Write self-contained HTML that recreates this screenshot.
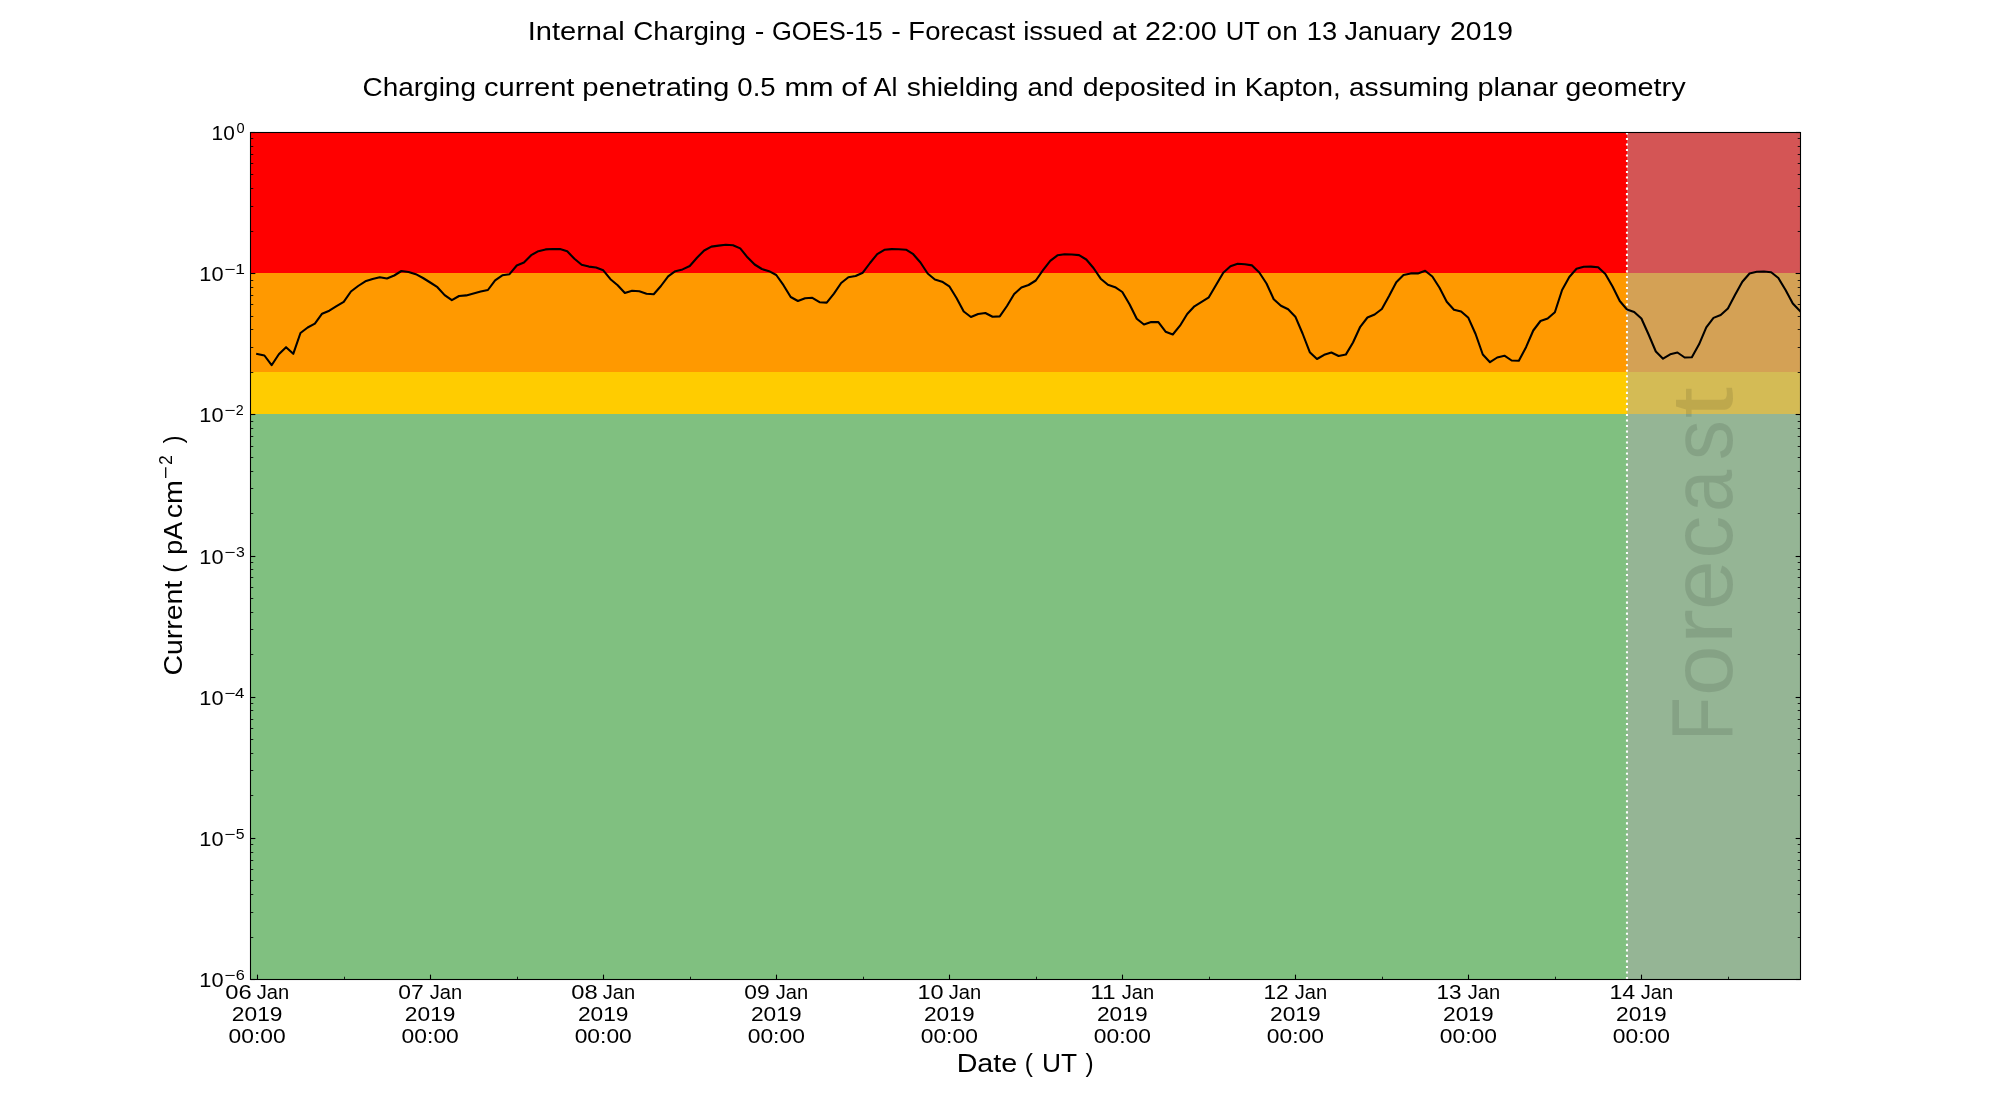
<!DOCTYPE html>
<html lang="en"><head><meta charset="utf-8"><title>Internal Charging - GOES-15 Forecast</title>
<style>
html,body{margin:0;padding:0;background:#fff;}
body{width:2000px;height:1100px;overflow:hidden;}
svg{display:block;will-change:transform;}
text{font-family:"Liberation Sans",sans-serif;fill:#000;white-space:pre;}
.t18{font-size:26.3px;}
.t14{font-size:20.5px;}
.sup14{font-size:14.3px;}
.sup18{font-size:18.4px;}
.fc{font-size:87.5px;fill:#000;fill-opacity:0.1;}
.maj{stroke:#000;stroke-width:1.1;}
.min{stroke:#000;stroke-width:0.85;}
</style></head><body>
<svg width="2000" height="1100" viewBox="0 0 2000 1100">
<rect x="0" y="0" width="2000" height="1100" fill="#ffffff"/>
<g shape-rendering="crispEdges">
<rect x="250.00" y="132.00" width="1550.00" height="141.00" fill="#ff0000" />
<rect x="250.00" y="273.00" width="1550.00" height="99.00" fill="#ff9900" />
<rect x="250.00" y="372.00" width="1550.00" height="42.00" fill="#ffcc00" />
<rect x="250.00" y="414.00" width="1550.00" height="565.00" fill="#80c080" />
<rect x="1627.00" y="132.00" width="173.00" height="847.00" fill="#a9a9a9" fill-opacity="0.5"/>
</g>
<g transform="translate(1732.0,735.1) rotate(-90)">
<text class="fc" ><tspan x="-5.62" y="0.00" textLength="43.74" lengthAdjust="spacingAndGlyphs">F</tspan><tspan x="39.03" y="0.00" textLength="50.65" lengthAdjust="spacingAndGlyphs">o</tspan><tspan x="90.23" y="0.00" textLength="35.96" lengthAdjust="spacingAndGlyphs">r</tspan><tspan x="125.15" y="0.00" textLength="49.78" lengthAdjust="spacingAndGlyphs">e</tspan><tspan x="176.25" y="0.00" textLength="42.91" lengthAdjust="spacingAndGlyphs">c</tspan><tspan x="223.03" y="0.00" textLength="42.22" lengthAdjust="spacingAndGlyphs">a</tspan><tspan x="274.82" y="0.00" textLength="40.13" lengthAdjust="spacingAndGlyphs">s</tspan><tspan x="316.53" y="0.00" textLength="31.55" lengthAdjust="spacingAndGlyphs">t</tspan></text>
</g>
<line x1="1626.98" y1="979" x2="1626.98" y2="132" stroke="#ffffff" stroke-width="2.08" stroke-dasharray="2.08 3.44"/>
<clipPath id="ax"><rect x="250" y="132" width="1550" height="847"/></clipPath>
<polyline clip-path="url(#ax)" points="257.21,354.00 264.42,355.50 271.63,365.20 278.84,354.20 286.05,347.20 293.26,353.80 300.47,333.00 307.67,327.50 314.88,323.70 322.09,313.70 329.30,310.70 336.51,306.20 343.72,301.80 350.93,291.50 358.14,286.00 365.35,281.30 372.56,279.00 379.77,277.20 386.98,278.50 394.19,275.50 401.40,271.00 408.60,272.00 415.81,274.20 423.02,278.00 430.23,282.50 437.44,287.20 444.65,295.10 451.86,300.20 459.07,296.00 466.28,295.40 473.49,293.50 480.70,291.60 487.91,290.00 495.12,280.30 502.33,275.30 509.53,274.20 516.74,265.50 523.95,262.50 531.16,255.20 538.37,251.20 545.58,249.40 552.79,249.00 560.00,249.10 567.21,251.30 574.42,258.80 581.63,264.80 588.84,266.60 596.05,267.50 603.26,270.30 610.47,279.20 617.67,285.20 624.88,293.00 632.09,290.80 639.30,291.30 646.51,293.70 653.72,294.20 660.93,286.00 668.14,276.30 675.35,271.20 682.56,269.40 689.77,266.00 696.98,257.70 704.19,250.50 711.40,246.60 718.60,245.60 725.81,244.80 733.02,245.20 740.23,248.40 747.44,257.30 754.65,264.50 761.86,269.00 769.07,271.20 776.28,275.00 783.49,285.20 790.70,297.00 797.91,301.00 805.12,298.20 812.33,297.80 819.53,302.20 826.74,302.60 833.95,293.70 841.16,283.00 848.37,277.20 855.58,276.00 862.79,272.70 870.00,263.00 877.21,254.20 884.42,249.80 891.63,249.10 898.84,249.30 906.05,249.70 913.26,254.20 920.47,262.50 927.67,273.50 934.88,279.50 942.09,281.70 949.30,286.30 956.51,298.00 963.72,311.50 970.93,317.00 978.14,314.00 985.35,313.00 992.56,316.70 999.77,316.40 1006.98,306.00 1014.19,294.00 1021.40,287.50 1028.60,285.00 1035.81,280.50 1043.02,270.20 1050.23,260.80 1057.44,255.30 1064.65,254.20 1071.86,254.50 1079.07,255.10 1086.28,259.50 1093.49,268.00 1100.70,278.70 1107.91,284.80 1115.12,287.20 1122.33,292.00 1129.53,304.20 1136.74,318.70 1143.95,324.50 1151.16,322.00 1158.37,322.10 1165.58,331.70 1172.79,334.50 1180.00,325.70 1187.21,314.00 1194.42,306.30 1201.63,301.90 1208.84,297.30 1216.05,285.00 1223.26,272.70 1230.47,266.20 1237.67,263.80 1244.88,264.20 1252.09,265.40 1259.30,272.50 1266.51,283.50 1273.72,299.20 1280.93,305.70 1288.14,309.30 1295.35,316.70 1302.56,333.50 1309.77,352.20 1316.98,359.00 1324.19,354.80 1331.40,352.50 1338.60,356.00 1345.81,354.60 1353.02,342.50 1360.23,326.80 1367.44,317.50 1374.65,314.50 1381.86,309.00 1389.07,296.00 1396.28,282.20 1403.49,275.00 1410.70,273.40 1417.91,273.40 1425.12,270.80 1432.33,276.50 1439.53,287.80 1446.74,301.80 1453.95,309.70 1461.16,311.50 1468.37,317.80 1475.58,334.00 1482.79,354.50 1490.00,362.20 1497.21,357.50 1504.42,355.70 1511.63,360.50 1518.84,360.70 1526.05,347.20 1533.26,330.50 1540.47,321.00 1547.67,318.50 1554.88,312.20 1562.09,290.00 1569.30,277.00 1576.51,268.80 1583.72,266.80 1590.93,266.60 1598.14,267.30 1605.35,274.00 1612.56,286.50 1619.77,301.00 1626.98,309.50 1634.19,312.00 1641.40,318.50 1648.60,334.50 1655.81,351.50 1663.02,358.70 1670.23,354.30 1677.44,352.50 1684.65,357.50 1691.86,357.30 1699.07,344.30 1706.28,327.40 1713.49,317.90 1720.70,315.00 1727.91,308.50 1735.12,294.80 1742.33,281.70 1749.53,273.50 1756.74,271.80 1763.95,271.50 1771.16,272.20 1778.37,278.00 1785.58,290.00 1792.79,303.50 1800.00,311.00" fill="none" stroke="#000000" stroke-width="2.08" stroke-linejoin="round" stroke-linecap="square"/>
<g>
<line class="maj" x1="257.5" y1="979.5" x2="257.5" y2="974.64"/>
<line class="maj" x1="430.5" y1="979.5" x2="430.5" y2="974.64"/>
<line class="maj" x1="603.5" y1="979.5" x2="603.5" y2="974.64"/>
<line class="maj" x1="776.5" y1="979.5" x2="776.5" y2="974.64"/>
<line class="maj" x1="949.5" y1="979.5" x2="949.5" y2="974.64"/>
<line class="maj" x1="1122.5" y1="979.5" x2="1122.5" y2="974.64"/>
<line class="maj" x1="1295.5" y1="979.5" x2="1295.5" y2="974.64"/>
<line class="maj" x1="1468.5" y1="979.5" x2="1468.5" y2="974.64"/>
<line class="maj" x1="1641.5" y1="979.5" x2="1641.5" y2="974.64"/>
<line class="min" x1="257.5" y1="979.5" x2="257.5" y2="976.72"/>
<line class="min" x1="344.5" y1="979.5" x2="344.5" y2="976.72"/>
<line class="min" x1="430.5" y1="979.5" x2="430.5" y2="976.72"/>
<line class="min" x1="517.5" y1="979.5" x2="517.5" y2="976.72"/>
<line class="min" x1="603.5" y1="979.5" x2="603.5" y2="976.72"/>
<line class="min" x1="690.5" y1="979.5" x2="690.5" y2="976.72"/>
<line class="min" x1="776.5" y1="979.5" x2="776.5" y2="976.72"/>
<line class="min" x1="863.5" y1="979.5" x2="863.5" y2="976.72"/>
<line class="min" x1="949.5" y1="979.5" x2="949.5" y2="976.72"/>
<line class="min" x1="1036.5" y1="979.5" x2="1036.5" y2="976.72"/>
<line class="min" x1="1122.5" y1="979.5" x2="1122.5" y2="976.72"/>
<line class="min" x1="1209.5" y1="979.5" x2="1209.5" y2="976.72"/>
<line class="min" x1="1295.5" y1="979.5" x2="1295.5" y2="976.72"/>
<line class="min" x1="1382.5" y1="979.5" x2="1382.5" y2="976.72"/>
<line class="min" x1="1468.5" y1="979.5" x2="1468.5" y2="976.72"/>
<line class="min" x1="1555.5" y1="979.5" x2="1555.5" y2="976.72"/>
<line class="min" x1="1641.5" y1="979.5" x2="1641.5" y2="976.72"/>
<line class="min" x1="1728.5" y1="979.5" x2="1728.5" y2="976.72"/>
<line class="maj" x1="250.5" y1="132.5" x2="255.36" y2="132.5"/>
<line class="maj" x1="1800.5" y1="132.5" x2="1795.64" y2="132.5"/>
<line class="min" x1="250.5" y1="231.5" x2="253.28" y2="231.5"/>
<line class="min" x1="1800.5" y1="231.5" x2="1797.72" y2="231.5"/>
<line class="min" x1="250.5" y1="206.5" x2="253.28" y2="206.5"/>
<line class="min" x1="1800.5" y1="206.5" x2="1797.72" y2="206.5"/>
<line class="min" x1="250.5" y1="188.5" x2="253.28" y2="188.5"/>
<line class="min" x1="1800.5" y1="188.5" x2="1797.72" y2="188.5"/>
<line class="min" x1="250.5" y1="174.5" x2="253.28" y2="174.5"/>
<line class="min" x1="1800.5" y1="174.5" x2="1797.72" y2="174.5"/>
<line class="min" x1="250.5" y1="163.5" x2="253.28" y2="163.5"/>
<line class="min" x1="1800.5" y1="163.5" x2="1797.72" y2="163.5"/>
<line class="min" x1="250.5" y1="154.5" x2="253.28" y2="154.5"/>
<line class="min" x1="1800.5" y1="154.5" x2="1797.72" y2="154.5"/>
<line class="min" x1="250.5" y1="146.5" x2="253.28" y2="146.5"/>
<line class="min" x1="1800.5" y1="146.5" x2="1797.72" y2="146.5"/>
<line class="min" x1="250.5" y1="138.5" x2="253.28" y2="138.5"/>
<line class="min" x1="1800.5" y1="138.5" x2="1797.72" y2="138.5"/>
<line class="maj" x1="250.5" y1="273.5" x2="255.36" y2="273.5"/>
<line class="maj" x1="1800.5" y1="273.5" x2="1795.64" y2="273.5"/>
<line class="min" x1="250.5" y1="372.5" x2="253.28" y2="372.5"/>
<line class="min" x1="1800.5" y1="372.5" x2="1797.72" y2="372.5"/>
<line class="min" x1="250.5" y1="347.5" x2="253.28" y2="347.5"/>
<line class="min" x1="1800.5" y1="347.5" x2="1797.72" y2="347.5"/>
<line class="min" x1="250.5" y1="329.5" x2="253.28" y2="329.5"/>
<line class="min" x1="1800.5" y1="329.5" x2="1797.72" y2="329.5"/>
<line class="min" x1="250.5" y1="316.5" x2="253.28" y2="316.5"/>
<line class="min" x1="1800.5" y1="316.5" x2="1797.72" y2="316.5"/>
<line class="min" x1="250.5" y1="304.5" x2="253.28" y2="304.5"/>
<line class="min" x1="1800.5" y1="304.5" x2="1797.72" y2="304.5"/>
<line class="min" x1="250.5" y1="295.5" x2="253.28" y2="295.5"/>
<line class="min" x1="1800.5" y1="295.5" x2="1797.72" y2="295.5"/>
<line class="min" x1="250.5" y1="287.5" x2="253.28" y2="287.5"/>
<line class="min" x1="1800.5" y1="287.5" x2="1797.72" y2="287.5"/>
<line class="min" x1="250.5" y1="280.5" x2="253.28" y2="280.5"/>
<line class="min" x1="1800.5" y1="280.5" x2="1797.72" y2="280.5"/>
<line class="maj" x1="250.5" y1="414.5" x2="255.36" y2="414.5"/>
<line class="maj" x1="1800.5" y1="414.5" x2="1795.64" y2="414.5"/>
<line class="min" x1="250.5" y1="513.5" x2="253.28" y2="513.5"/>
<line class="min" x1="1800.5" y1="513.5" x2="1797.72" y2="513.5"/>
<line class="min" x1="250.5" y1="488.5" x2="253.28" y2="488.5"/>
<line class="min" x1="1800.5" y1="488.5" x2="1797.72" y2="488.5"/>
<line class="min" x1="250.5" y1="471.5" x2="253.28" y2="471.5"/>
<line class="min" x1="1800.5" y1="471.5" x2="1797.72" y2="471.5"/>
<line class="min" x1="250.5" y1="457.5" x2="253.28" y2="457.5"/>
<line class="min" x1="1800.5" y1="457.5" x2="1797.72" y2="457.5"/>
<line class="min" x1="250.5" y1="446.5" x2="253.28" y2="446.5"/>
<line class="min" x1="1800.5" y1="446.5" x2="1797.72" y2="446.5"/>
<line class="min" x1="250.5" y1="436.5" x2="253.28" y2="436.5"/>
<line class="min" x1="1800.5" y1="436.5" x2="1797.72" y2="436.5"/>
<line class="min" x1="250.5" y1="428.5" x2="253.28" y2="428.5"/>
<line class="min" x1="1800.5" y1="428.5" x2="1797.72" y2="428.5"/>
<line class="min" x1="250.5" y1="421.5" x2="253.28" y2="421.5"/>
<line class="min" x1="1800.5" y1="421.5" x2="1797.72" y2="421.5"/>
<line class="maj" x1="250.5" y1="556.5" x2="255.36" y2="556.5"/>
<line class="maj" x1="1800.5" y1="556.5" x2="1795.64" y2="556.5"/>
<line class="min" x1="250.5" y1="654.5" x2="253.28" y2="654.5"/>
<line class="min" x1="1800.5" y1="654.5" x2="1797.72" y2="654.5"/>
<line class="min" x1="250.5" y1="629.5" x2="253.28" y2="629.5"/>
<line class="min" x1="1800.5" y1="629.5" x2="1797.72" y2="629.5"/>
<line class="min" x1="250.5" y1="612.5" x2="253.28" y2="612.5"/>
<line class="min" x1="1800.5" y1="612.5" x2="1797.72" y2="612.5"/>
<line class="min" x1="250.5" y1="598.5" x2="253.28" y2="598.5"/>
<line class="min" x1="1800.5" y1="598.5" x2="1797.72" y2="598.5"/>
<line class="min" x1="250.5" y1="587.5" x2="253.28" y2="587.5"/>
<line class="min" x1="1800.5" y1="587.5" x2="1797.72" y2="587.5"/>
<line class="min" x1="250.5" y1="577.5" x2="253.28" y2="577.5"/>
<line class="min" x1="1800.5" y1="577.5" x2="1797.72" y2="577.5"/>
<line class="min" x1="250.5" y1="569.5" x2="253.28" y2="569.5"/>
<line class="min" x1="1800.5" y1="569.5" x2="1797.72" y2="569.5"/>
<line class="min" x1="250.5" y1="562.5" x2="253.28" y2="562.5"/>
<line class="min" x1="1800.5" y1="562.5" x2="1797.72" y2="562.5"/>
<line class="maj" x1="250.5" y1="697.5" x2="255.36" y2="697.5"/>
<line class="maj" x1="1800.5" y1="697.5" x2="1795.64" y2="697.5"/>
<line class="min" x1="250.5" y1="795.5" x2="253.28" y2="795.5"/>
<line class="min" x1="1800.5" y1="795.5" x2="1797.72" y2="795.5"/>
<line class="min" x1="250.5" y1="770.5" x2="253.28" y2="770.5"/>
<line class="min" x1="1800.5" y1="770.5" x2="1797.72" y2="770.5"/>
<line class="min" x1="250.5" y1="753.5" x2="253.28" y2="753.5"/>
<line class="min" x1="1800.5" y1="753.5" x2="1797.72" y2="753.5"/>
<line class="min" x1="250.5" y1="739.5" x2="253.28" y2="739.5"/>
<line class="min" x1="1800.5" y1="739.5" x2="1797.72" y2="739.5"/>
<line class="min" x1="250.5" y1="728.5" x2="253.28" y2="728.5"/>
<line class="min" x1="1800.5" y1="728.5" x2="1797.72" y2="728.5"/>
<line class="min" x1="250.5" y1="719.5" x2="253.28" y2="719.5"/>
<line class="min" x1="1800.5" y1="719.5" x2="1797.72" y2="719.5"/>
<line class="min" x1="250.5" y1="710.5" x2="253.28" y2="710.5"/>
<line class="min" x1="1800.5" y1="710.5" x2="1797.72" y2="710.5"/>
<line class="min" x1="250.5" y1="703.5" x2="253.28" y2="703.5"/>
<line class="min" x1="1800.5" y1="703.5" x2="1797.72" y2="703.5"/>
<line class="maj" x1="250.5" y1="838.5" x2="255.36" y2="838.5"/>
<line class="maj" x1="1800.5" y1="838.5" x2="1795.64" y2="838.5"/>
<line class="min" x1="250.5" y1="937.5" x2="253.28" y2="937.5"/>
<line class="min" x1="1800.5" y1="937.5" x2="1797.72" y2="937.5"/>
<line class="min" x1="250.5" y1="912.5" x2="253.28" y2="912.5"/>
<line class="min" x1="1800.5" y1="912.5" x2="1797.72" y2="912.5"/>
<line class="min" x1="250.5" y1="894.5" x2="253.28" y2="894.5"/>
<line class="min" x1="1800.5" y1="894.5" x2="1797.72" y2="894.5"/>
<line class="min" x1="250.5" y1="880.5" x2="253.28" y2="880.5"/>
<line class="min" x1="1800.5" y1="880.5" x2="1797.72" y2="880.5"/>
<line class="min" x1="250.5" y1="869.5" x2="253.28" y2="869.5"/>
<line class="min" x1="1800.5" y1="869.5" x2="1797.72" y2="869.5"/>
<line class="min" x1="250.5" y1="860.5" x2="253.28" y2="860.5"/>
<line class="min" x1="1800.5" y1="860.5" x2="1797.72" y2="860.5"/>
<line class="min" x1="250.5" y1="852.5" x2="253.28" y2="852.5"/>
<line class="min" x1="1800.5" y1="852.5" x2="1797.72" y2="852.5"/>
<line class="min" x1="250.5" y1="844.5" x2="253.28" y2="844.5"/>
<line class="min" x1="1800.5" y1="844.5" x2="1797.72" y2="844.5"/>
<line class="maj" x1="250.5" y1="979.5" x2="255.36" y2="979.5"/>
<line class="maj" x1="1800.5" y1="979.5" x2="1795.64" y2="979.5"/>
</g>
<rect x="250.5" y="132.5" width="1550" height="847" fill="none" stroke="#000" stroke-width="1.1"/>
<g>
<text class="t18" ><tspan x="527.72" y="40.00" textLength="96.93" lengthAdjust="spacingAndGlyphs">Internal</tspan> <tspan x="633.33" y="40.00" textLength="112.55" lengthAdjust="spacingAndGlyphs">Charging</tspan> <tspan x="754.86" y="40.00" textLength="9.58" lengthAdjust="spacingAndGlyphs">-</tspan> <tspan x="771.91" y="40.00" textLength="110.71" lengthAdjust="spacingAndGlyphs">GOES-15</tspan> <tspan x="891.30" y="40.00" textLength="9.58" lengthAdjust="spacingAndGlyphs">-</tspan> <tspan x="908.39" y="40.00" textLength="106.79" lengthAdjust="spacingAndGlyphs">Forecast</tspan> <tspan x="1023.16" y="40.00" textLength="79.88" lengthAdjust="spacingAndGlyphs">issued</tspan> <tspan x="1112.05" y="40.00" textLength="24.54" lengthAdjust="spacingAndGlyphs">at</tspan> <tspan x="1144.97" y="40.00" textLength="71.79" lengthAdjust="spacingAndGlyphs">22:00</tspan> <tspan x="1225.73" y="40.00" textLength="33.63" lengthAdjust="spacingAndGlyphs">UT</tspan> <tspan x="1266.63" y="40.00" textLength="31.08" lengthAdjust="spacingAndGlyphs">on</tspan> <tspan x="1306.86" y="40.00" textLength="30.37" lengthAdjust="spacingAndGlyphs">13</tspan> <tspan x="1344.64" y="40.00" textLength="95.78" lengthAdjust="spacingAndGlyphs">January</tspan> <tspan x="1449.98" y="40.00" textLength="62.96" lengthAdjust="spacingAndGlyphs">2019</tspan></text>
<text class="t18" ><tspan x="362.58" y="96.00" textLength="113.35" lengthAdjust="spacingAndGlyphs">Charging</tspan> <tspan x="483.91" y="96.00" textLength="90.56" lengthAdjust="spacingAndGlyphs">current</tspan> <tspan x="582.37" y="96.00" textLength="146.96" lengthAdjust="spacingAndGlyphs">penetrating</tspan> <tspan x="737.38" y="96.00" textLength="38.28" lengthAdjust="spacingAndGlyphs">0.5</tspan> <tspan x="784.56" y="96.00" textLength="48.94" lengthAdjust="spacingAndGlyphs">mm</tspan> <tspan x="841.31" y="96.00" textLength="25.26" lengthAdjust="spacingAndGlyphs">of</tspan> <tspan x="873.56" y="96.00" textLength="23.87" lengthAdjust="spacingAndGlyphs">Al</tspan> <tspan x="906.87" y="96.00" textLength="111.74" lengthAdjust="spacingAndGlyphs">shielding</tspan> <tspan x="1027.63" y="96.00" textLength="46.00" lengthAdjust="spacingAndGlyphs">and</tspan> <tspan x="1082.68" y="96.00" textLength="123.17" lengthAdjust="spacingAndGlyphs">deposited</tspan> <tspan x="1214.06" y="96.00" textLength="22.90" lengthAdjust="spacingAndGlyphs">in</tspan> <tspan x="1244.79" y="96.00" textLength="95.89" lengthAdjust="spacingAndGlyphs">Kapton,</tspan> <tspan x="1349.00" y="96.00" textLength="120.14" lengthAdjust="spacingAndGlyphs">assuming</tspan> <tspan x="1477.49" y="96.00" textLength="80.44" lengthAdjust="spacingAndGlyphs">planar</tspan> <tspan x="1565.24" y="96.00" textLength="120.41" lengthAdjust="spacingAndGlyphs">geometry</tspan></text>
<text class="t18" ><tspan x="956.65" y="1072.00" textLength="60.63" lengthAdjust="spacingAndGlyphs">Date</tspan> <tspan x="1024.74" y="1072.00" textLength="8.15" lengthAdjust="spacingAndGlyphs">(</tspan> <tspan x="1042.00" y="1072.00" textLength="34.60" lengthAdjust="spacingAndGlyphs">UT</tspan> <tspan x="1085.61" y="1072.00" textLength="8.15" lengthAdjust="spacingAndGlyphs">)</tspan></text>
<text class="t14" ><tspan x="225.23" y="999.00" textLength="26.42" lengthAdjust="spacingAndGlyphs">06</tspan> <tspan x="256.67" y="999.00" textLength="32.45" lengthAdjust="spacingAndGlyphs">Jan</tspan></text>
<text class="t14" x="231.86" y="1021.00" textLength="50.62" lengthAdjust="spacingAndGlyphs">2019</text>
<text class="t14" x="228.62" y="1043.00" textLength="57.18" lengthAdjust="spacingAndGlyphs">00:00</text>
<text class="t14" ><tspan x="398.26" y="999.00" textLength="25.43" lengthAdjust="spacingAndGlyphs">07</tspan> <tspan x="429.67" y="999.00" textLength="32.45" lengthAdjust="spacingAndGlyphs">Jan</tspan></text>
<text class="t14" x="404.89" y="1021.00" textLength="50.62" lengthAdjust="spacingAndGlyphs">2019</text>
<text class="t14" x="401.64" y="1043.00" textLength="57.18" lengthAdjust="spacingAndGlyphs">00:00</text>
<text class="t14" ><tspan x="571.23" y="999.00" textLength="26.41" lengthAdjust="spacingAndGlyphs">08</tspan> <tspan x="602.67" y="999.00" textLength="32.45" lengthAdjust="spacingAndGlyphs">Jan</tspan></text>
<text class="t14" x="577.91" y="1021.00" textLength="50.62" lengthAdjust="spacingAndGlyphs">2019</text>
<text class="t14" x="574.66" y="1043.00" textLength="57.18" lengthAdjust="spacingAndGlyphs">00:00</text>
<text class="t14" ><tspan x="744.26" y="999.00" textLength="25.36" lengthAdjust="spacingAndGlyphs">09</tspan> <tspan x="775.67" y="999.00" textLength="32.45" lengthAdjust="spacingAndGlyphs">Jan</tspan></text>
<text class="t14" x="750.93" y="1021.00" textLength="50.62" lengthAdjust="spacingAndGlyphs">2019</text>
<text class="t14" x="747.69" y="1043.00" textLength="57.18" lengthAdjust="spacingAndGlyphs">00:00</text>
<text class="t14" ><tspan x="917.43" y="999.00" textLength="26.09" lengthAdjust="spacingAndGlyphs">10</tspan> <tspan x="948.67" y="999.00" textLength="32.45" lengthAdjust="spacingAndGlyphs">Jan</tspan></text>
<text class="t14" x="923.96" y="1021.00" textLength="50.62" lengthAdjust="spacingAndGlyphs">2019</text>
<text class="t14" x="920.71" y="1043.00" textLength="57.18" lengthAdjust="spacingAndGlyphs">00:00</text>
<text class="t14" ><tspan x="1090.35" y="999.00" textLength="25.38" lengthAdjust="spacingAndGlyphs">11</tspan> <tspan x="1121.67" y="999.00" textLength="32.45" lengthAdjust="spacingAndGlyphs">Jan</tspan></text>
<text class="t14" x="1096.98" y="1021.00" textLength="50.62" lengthAdjust="spacingAndGlyphs">2019</text>
<text class="t14" x="1093.73" y="1043.00" textLength="57.18" lengthAdjust="spacingAndGlyphs">00:00</text>
<text class="t14" ><tspan x="1263.49" y="999.00" textLength="25.19" lengthAdjust="spacingAndGlyphs">12</tspan> <tspan x="1294.66" y="999.00" textLength="32.45" lengthAdjust="spacingAndGlyphs">Jan</tspan></text>
<text class="t14" x="1270.00" y="1021.00" textLength="50.62" lengthAdjust="spacingAndGlyphs">2019</text>
<text class="t14" x="1266.76" y="1043.00" textLength="57.18" lengthAdjust="spacingAndGlyphs">00:00</text>
<text class="t14" ><tspan x="1436.49" y="999.00" textLength="25.03" lengthAdjust="spacingAndGlyphs">13</tspan> <tspan x="1467.66" y="999.00" textLength="32.45" lengthAdjust="spacingAndGlyphs">Jan</tspan></text>
<text class="t14" x="1443.03" y="1021.00" textLength="50.62" lengthAdjust="spacingAndGlyphs">2019</text>
<text class="t14" x="1439.78" y="1043.00" textLength="57.18" lengthAdjust="spacingAndGlyphs">00:00</text>
<text class="t14" ><tspan x="1609.44" y="999.00" textLength="25.84" lengthAdjust="spacingAndGlyphs">14</tspan> <tspan x="1640.66" y="999.00" textLength="32.45" lengthAdjust="spacingAndGlyphs">Jan</tspan></text>
<text class="t14" x="1616.05" y="1021.00" textLength="50.62" lengthAdjust="spacingAndGlyphs">2019</text>
<text class="t14" x="1612.80" y="1043.00" textLength="57.18" lengthAdjust="spacingAndGlyphs">00:00</text>
<text class="t14" x="211.61" y="140.00" textLength="23.20" lengthAdjust="spacingAndGlyphs">10</text>
<text class="sup14" x="236.43" y="133.00" textLength="8.14" lengthAdjust="spacingAndGlyphs">0</text>
<text class="t14" x="199.34" y="281.17" textLength="24.21" lengthAdjust="spacingAndGlyphs">10</text>
<text class="sup14" x="224.27" y="274.17" textLength="11.06" lengthAdjust="spacingAndGlyphs">&#8722;</text>
<text class="sup14" x="235.18" y="274.17" textLength="9.67" lengthAdjust="spacingAndGlyphs">1</text>
<text class="t14" x="199.34" y="422.33" textLength="24.21" lengthAdjust="spacingAndGlyphs">10</text>
<text class="sup14" x="224.27" y="415.33" textLength="11.06" lengthAdjust="spacingAndGlyphs">&#8722;</text>
<text class="sup14" x="235.78" y="415.33" textLength="7.94" lengthAdjust="spacingAndGlyphs">2</text>
<text class="t14" x="199.34" y="563.50" textLength="24.21" lengthAdjust="spacingAndGlyphs">10</text>
<text class="sup14" x="224.27" y="556.50" textLength="11.06" lengthAdjust="spacingAndGlyphs">&#8722;</text>
<text class="sup14" x="235.90" y="556.50" textLength="8.80" lengthAdjust="spacingAndGlyphs">3</text>
<text class="t14" x="199.34" y="704.67" textLength="24.21" lengthAdjust="spacingAndGlyphs">10</text>
<text class="sup14" x="224.27" y="697.67" textLength="11.06" lengthAdjust="spacingAndGlyphs">&#8722;</text>
<text class="sup14" x="235.11" y="697.67" textLength="9.38" lengthAdjust="spacingAndGlyphs">4</text>
<text class="t14" x="199.34" y="845.83" textLength="24.21" lengthAdjust="spacingAndGlyphs">10</text>
<text class="sup14" x="224.27" y="838.83" textLength="11.06" lengthAdjust="spacingAndGlyphs">&#8722;</text>
<text class="sup14" x="235.87" y="838.83" textLength="8.80" lengthAdjust="spacingAndGlyphs">5</text>
<text class="t14" x="199.34" y="987.00" textLength="24.21" lengthAdjust="spacingAndGlyphs">10</text>
<text class="sup14" x="224.27" y="980.00" textLength="11.06" lengthAdjust="spacingAndGlyphs">&#8722;</text>
<text class="sup14" x="235.67" y="980.00" textLength="9.04" lengthAdjust="spacingAndGlyphs">6</text>
</g>
<g transform="translate(182.1,675.0) rotate(-90)">
<text class="t18" x="-0.44" y="0.00" textLength="94.65" lengthAdjust="spacingAndGlyphs">Current</text>
<text class="t18" x="102.24" y="0.00" textLength="8.15" lengthAdjust="spacingAndGlyphs">(</text>
<text class="t18" x="120.27" y="0.00" textLength="32.78" lengthAdjust="spacingAndGlyphs">pA</text>
<text class="t18" x="156.79" y="0.00" textLength="38.10" lengthAdjust="spacingAndGlyphs">cm</text>
<text class="sup18" x="195.88" y="-10.00" textLength="13.22" lengthAdjust="spacingAndGlyphs">&#8722;</text>
<text class="sup18" x="210.12" y="-10.00" textLength="9.77" lengthAdjust="spacingAndGlyphs">2</text>
<text class="t18" x="231.61" y="0.00" textLength="8.15" lengthAdjust="spacingAndGlyphs">)</text>
</g>
</svg>
</body></html>
